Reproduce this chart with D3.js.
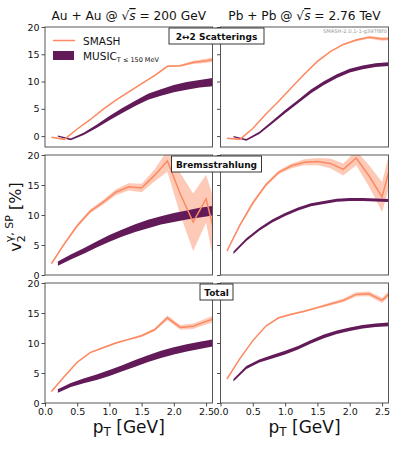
<!DOCTYPE html>
<html>
<head>
<meta charset="utf-8">
<script src="https://cdn.jsdelivr.net/npm/d3@7"></script>
<style>
  body { margin: 0; background: #fff; }
  text { font-family: "DejaVu Sans", sans-serif; }
</style>
</head>
<body>
<div id="chart"></div>
<script>
// ---- data (v2 in %) ----
const ptSmash = [0.1, 0.3, 0.5, 0.7, 0.9, 1.1, 1.3, 1.5, 1.7, 1.9, 2.1, 2.3, 2.5, 2.7]
const ptMusic = [0.2, 0.4, 0.6, 0.8, 1.0, 1.2, 1.4, 1.6, 1.8, 2.0, 2.2, 2.4, 2.6]

const smashAu22 = [-0.2, -0.6, 1.3, 3.0, 4.9, 6.6, 8.1, 9.6, 11.1, 12.8, 12.9, 13.5, 13.8, 14.2]
const smashAu22Err = [0.05, 0.05, 0.05, 0.05, 0.05, 0.08, 0.1, 0.1, 0.12, 0.15, 0.2, 0.3, 0.4, 0.5]
const musicAu22 = [0.0, -0.6, 0.4, 1.8, 3.3, 4.7, 6.0, 7.2, 8.0, 8.7, 9.2, 9.6, 9.9]
const musicAu22Err = [0.12, 0.15, 0.2, 0.3, 0.4, 0.45, 0.5, 0.55, 0.6, 0.65, 0.7, 0.7, 0.75]

const smashPb22 = [-0.4, -0.6, 1.4, 4.0, 6.4, 8.9, 11.4, 13.7, 15.5, 16.8, 17.6, 18.1, 17.8, 17.9]
const smashPb22Err = [0.05, 0.05, 0.05, 0.05, 0.05, 0.06, 0.08, 0.1, 0.1, 0.15, 0.2, 0.25, 0.3, 0.3]
const musicPb22 = [-0.1, -0.7, 0.6, 2.5, 4.5, 6.3, 8.2, 9.7, 11.0, 12.0, 12.6, 13.0, 13.2]
const musicPb22Err = [0.12, 0.15, 0.2, 0.25, 0.3, 0.3, 0.35, 0.35, 0.35, 0.35, 0.35, 0.35, 0.35]

const smashAuBrem = [1.9, 5.2, 8.2, 10.6, 12.1, 13.8, 14.7, 14.5, 16.6, 19.0, 13.5, 8.8, 12.7, 4.0]
const smashAuBremErr = [0.2, 0.2, 0.3, 0.3, 0.4, 0.5, 0.6, 0.7, 1.0, 1.8, 3.5, 4.8, 4.0, 6.0]
const musicAuBrem = [1.9, 3.0, 4.0, 5.1, 6.1, 7.0, 7.8, 8.5, 9.1, 9.6, 10.0, 10.4, 10.7]
const musicAuBremErr = [0.35, 0.4, 0.45, 0.5, 0.55, 0.6, 0.65, 0.7, 0.7, 0.75, 0.75, 0.8, 0.8]

const smashPbBrem = [4.0, 8.3, 12.0, 15.0, 17.1, 18.2, 18.8, 18.9, 18.6, 17.6, 19.5, 16.5, 13.0, 21.0]
const smashPbBremErr = [0.2, 0.2, 0.3, 0.3, 0.3, 0.4, 0.5, 0.6, 0.8, 1.0, 1.2, 1.8, 2.5, 3.0]
const musicPbBrem = [3.7, 5.9, 7.6, 9.0, 10.1, 11.0, 11.7, 12.1, 12.45, 12.6, 12.6, 12.5, 12.4]
const musicPbBremErr = [0.2, 0.22, 0.24, 0.25, 0.25, 0.25, 0.25, 0.25, 0.25, 0.25, 0.25, 0.25, 0.25]

const smashAuTot = [1.9, 4.4, 6.8, 8.4, 9.2, 10.0, 10.6, 11.2, 12.2, 14.2, 12.6, 12.8, 13.6, 14.3]
const smashAuTotErr = [0.05, 0.08, 0.1, 0.1, 0.12, 0.15, 0.15, 0.2, 0.25, 0.4, 0.4, 0.45, 0.5, 0.6]
const musicAuTot = [2.0, 3.0, 3.7, 4.3, 5.0, 5.8, 6.6, 7.4, 8.1, 8.7, 9.2, 9.6, 10.0]
const musicAuTotErr = [0.3, 0.35, 0.4, 0.45, 0.5, 0.5, 0.55, 0.55, 0.6, 0.6, 0.6, 0.6, 0.6]

const smashPbTot = [4.0, 7.4, 10.4, 12.8, 14.2, 14.8, 15.3, 15.9, 16.5, 17.1, 18.1, 18.2, 17.1, 19.1]
const smashPbTotErr = [0.05, 0.08, 0.1, 0.1, 0.12, 0.15, 0.15, 0.2, 0.25, 0.3, 0.35, 0.4, 0.45, 0.5]
const musicPbTot = [3.8, 5.9, 7.0, 7.7, 8.4, 9.2, 10.2, 11.1, 11.8, 12.3, 12.7, 12.95, 13.1]
const musicPbTotErr = [0.2, 0.25, 0.25, 0.3, 0.3, 0.3, 0.3, 0.3, 0.3, 0.3, 0.3, 0.3, 0.3]

const rowLabels = ['2\u21942 Scatterings', 'Bremsstrahlung', 'Total']
const rowDomains = [[-2, 20], [0, 20], [0, 20]]
const yTicks = [0, 5, 10, 15, 20]
const xTicks = [0.0, 0.5, 1.0, 1.5, 2.0, 2.5]

const panels = [
  { row: 0, col: 0, smash: smashAu22, smashErr: smashAu22Err, music: musicAu22, musicErr: musicAu22Err },
  { row: 0, col: 1, smash: smashPb22, smashErr: smashPb22Err, music: musicPb22, musicErr: musicPb22Err },
  { row: 1, col: 0, smash: smashAuBrem, smashErr: smashAuBremErr, music: musicAuBrem, musicErr: musicAuBremErr },
  { row: 1, col: 1, smash: smashPbBrem, smashErr: smashPbBremErr, music: musicPbBrem, musicErr: musicPbBremErr },
  { row: 2, col: 0, smash: smashAuTot, smashErr: smashAuTotErr, music: musicAuTot, musicErr: musicAuTotErr },
  { row: 2, col: 1, smash: smashPbTot, smashErr: smashPbTotErr, music: musicPbTot, musicErr: musicPbTotErr }
]

// ---- layout ----
const width = 399
const height = 451
const colX = [[45, 212.5], [220.5, 388.5]]
const rowY = [[27, 147], [155, 275], [283, 403]]

const orange = '#fc8961'
const purple = '#621a58'

const svg = d3.select('#chart')
  .append('svg')
  .attr('width', width)
  .attr('height', height)
  .attr('viewBox', [0, 0, width, height])

const defs = svg.append('defs')

panels.forEach((p, i) => {
  const [x0, x1] = colX[p.col]
  const [y0, y1] = rowY[p.row]
  const x = d3.scaleLinear().domain([0, 2.6]).range([x0, x1])
  const y = d3.scaleLinear().domain(rowDomains[p.row]).range([y1, y0])

  defs.append('clipPath').attr('id', 'clip' + i)
    .append('rect').attr('x', x0).attr('y', y0).attr('width', x1 - x0).attr('height', y1 - y0)

  const g = svg.append('g')
  const plot = g.append('g').attr('clip-path', `url(#clip${i})`)

  const smashData = ptSmash.map((pt, j) => ({ pt, v: p.smash[j], e: p.smashErr[j] }))
  const musicData = ptMusic.map((pt, j) => ({ pt, v: p.music[j], e: p.musicErr[j] }))

  const band = d3.area()
    .x(d => x(d.pt))
    .y0(d => y(d.v - d.e))
    .y1(d => y(d.v + d.e))

  plot.append('path').datum(smashData)
    .attr('d', band)
    .attr('fill', orange)
    .attr('fill-opacity', 0.45)

  plot.append('path').datum(musicData)
    .attr('d', band)
    .attr('fill', purple)

  plot.append('path').datum(smashData)
    .attr('d', d3.line().x(d => x(d.pt)).y(d => y(d.v)))
    .attr('fill', 'none')
    .attr('stroke', orange)
    .attr('stroke-width', 1.5)

  // y axis
  const yAxis = g.append('g')
    .attr('transform', `translate(${x0},0)`)
    .call(d3.axisLeft(y).tickValues(yTicks).tickSize(3.5).tickPadding(2)
      .tickFormat(p.col === 0 ? d3.format('d') : () => ''))
  yAxis.select('.domain').remove()
  yAxis.selectAll('line').attr('stroke', '#222').attr('stroke-width', 0.8)
  yAxis.selectAll('text').attr('font-size', 9.5).attr('fill', '#111')
    .style('font-family', '"DejaVu Sans", sans-serif')

  // x axis on bottom row
  if (p.row === 2) {
    const xAxis = g.append('g')
      .attr('transform', `translate(0,${y1})`)
      .call(d3.axisBottom(x).tickValues(xTicks).tickSize(3.5).tickPadding(1.5).tickFormat(d3.format('.1f')))
    xAxis.select('.domain').remove()
    xAxis.selectAll('line').attr('stroke', '#222').attr('stroke-width', 0.8)
    xAxis.selectAll('text').attr('font-size', 9.5).attr('fill', '#111')
      .style('font-family', '"DejaVu Sans", sans-serif')

    const xl = g.append('text')
      .attr('x', (x0 + x1) / 2)
      .attr('y', 433)
      .attr('text-anchor', 'middle')
      .attr('font-size', 17)
      .attr('fill', '#111')
    xl.append('tspan').text('p')
    xl.append('tspan').attr('font-size', 12).attr('dy', 3).text('T')
    xl.append('tspan').attr('dy', -3).text(' [GeV]')
  }

  // frame
  g.append('rect')
    .attr('x', x0).attr('y', y0)
    .attr('width', x1 - x0).attr('height', y1 - y0)
    .attr('fill', 'none')
    .attr('stroke', '#444')
    .attr('stroke-width', 0.9)
})

// row labels (boxes straddling the two columns)
const labelW = [95, 90, 33]
rowLabels.forEach((lab, r) => {
  const cx = 216.5
  const top = rowY[r][0] + 1
  svg.append('rect')
    .attr('x', cx - labelW[r] / 2).attr('y', top)
    .attr('width', labelW[r]).attr('height', 16)
    .attr('fill', '#fff')
    .attr('stroke', '#222')
    .attr('stroke-width', 0.9)
  svg.append('text')
    .attr('x', cx).attr('y', top + 11.5)
    .attr('text-anchor', 'middle')
    .attr('font-size', 9)
    .attr('font-weight', 'bold')
    .attr('fill', '#111')
    .text(lab)
})

// column titles
const titles = [
  { pre: 'Au + Au @ ', post: ' = 200 GeV' },
  { pre: 'Pb + Pb @ ', post: ' = 2.76 TeV' }
]
titles.forEach((t, c) => {
  const tt = svg.append('text')
    .attr('x', (colX[c][0] + colX[c][1]) / 2)
    .attr('y', 20)
    .attr('text-anchor', 'middle')
    .attr('font-size', 12.2)
    .attr('fill', '#111')
  tt.append('tspan').text(t.pre + '\u221A')
  tt.append('tspan').style('text-decoration', 'overline').attr('font-style', 'italic').text('s')
  tt.append('tspan').text(t.post)
})

// y label
const yl = svg.append('text')
  .attr('transform', 'translate(21,217) rotate(-90)')
  .attr('text-anchor', 'middle')
  .attr('font-size', 16)
  .attr('fill', '#111')
yl.append('tspan').text('v')
yl.append('tspan').attr('font-size', 11).attr('dy', 4).text('2')
yl.append('tspan').attr('font-size', 11).attr('dx', -7).attr('dy', -12).text('\u03B3, SP')
yl.append('tspan').attr('dy', 8).text(' [%]')

// watermark
svg.append('text')
  .attr('x', 387).attr('y', 33)
  .attr('text-anchor', 'end')
  .attr('font-size', 5.2)
  .attr('fill', '#999')
  .text('SMASH-2.0.1-1-g397f8f0')

// legend
const lg = svg.append('g')
lg.append('line')
  .attr('x1', 53).attr('x2', 75).attr('y1', 40.5).attr('y2', 40.5)
  .attr('stroke', orange).attr('stroke-width', 1.5)
lg.append('text').attr('x', 83).attr('y', 44.5).attr('font-size', 10.5).attr('fill', '#111').text('SMASH')
lg.append('rect')
  .attr('x', 53).attr('y', 51).attr('width', 21).attr('height', 9)
  .attr('fill', purple)
const mt = lg.append('text').attr('x', 83).attr('y', 59.5).attr('font-size', 10.5).attr('fill', '#111')
mt.append('tspan').text('MUSIC')
mt.append('tspan').attr('font-size', 6.5).attr('dy', 2.5).text('T \u2264 150 MeV')
</script>
</body>
</html>
